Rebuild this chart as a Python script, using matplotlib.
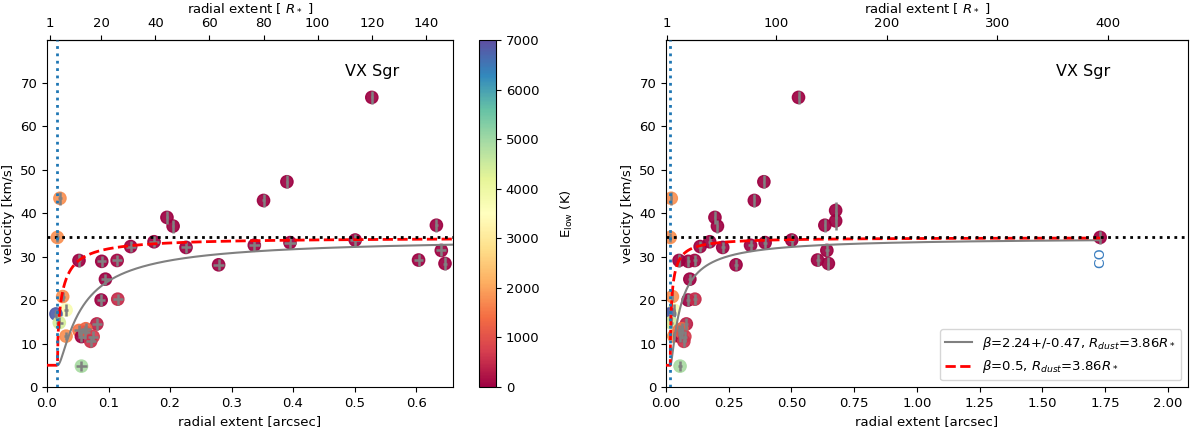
import numpy as np
import matplotlib.pyplot as plt

# measured points: radial extent (arcsec), velocity (km/s), E_low (K)
rad = [0.021, 0.0168, 0.052, 0.089, 0.114, 0.095, 0.088, 0.115, 0.0255, 0.031,
       0.0146, 0.020, 0.081, 0.031, 0.052, 0.063, 0.056, 0.062, 0.075, 0.071,
       0.056, 0.136, 0.174, 0.195, 0.205, 0.226, 0.279, 0.337, 0.352, 0.390,
       0.395, 0.501, 0.528, 0.604, 0.633, 0.641, 0.647, 0.676, 0.676, 1.730]
vel = [43.4, 34.4, 29.1, 28.9, 29.1, 24.8, 20.0, 20.2, 20.8, 17.7,
       16.8, 14.8, 14.5, 11.7, 13.0, 13.4, 11.6, 12.6, 11.6, 10.5,
       4.8, 32.3, 33.4, 39.0, 37.0, 32.1, 28.1, 32.6, 42.9, 47.2,
       33.2, 33.8, 66.6, 29.2, 37.2, 31.4, 28.4, 40.6, 38.2, 34.4]
elow = [1800, 1800, 0, 0, 100, 0, 0, 500, 1800, 3700,
        6800, 4400, 400, 1800, 1500, 1300, 0, 1100, 700, 600,
        4900, 0, 0, 0, 0, 0, 0, 0, 0, 0,
        0, 0, 0, 0, 0, 0, 0, 0, 0, 0]
rad_err = [0.003, 0.003, 0.003, 0.007, 0.008, 0.007, 0.007, 0.008, 0.003, 0.003,
           0.003, 0.006, 0.008, 0.003, 0.008, 0.008, 0.006, 0.008, 0.008, 0.008,
           0.009, 0.008, 0.008, 0.002, 0.002, 0.008, 0.009, 0.009, 0.002, 0.002,
           0.009, 0.009, 0.002, 0.008, 0.002, 0.008, 0.004, 0.002, 0.002, 0.004]
vel_err = [1.5, 1.0, 1.5, 1.3, 1.3, 1.3, 1.3, 1.3, 1.0, 1.3,
           1.0, 1.2, 1.3, 1.0, 1.3, 1.3, 1.3, 1.5, 1.3, 1.3,
           1.2, 1.3, 1.3, 1.5, 1.5, 1.3, 1.3, 1.3, 1.5, 1.5,
           1.3, 1.3, 1.5, 1.3, 1.5, 1.3, 1.5, 2.0, 2.0, 1.5]

Rstar = 0.0044       # arcsec
Rdust = 3.86*Rstar
v0 = 5.0
vinf = 34.4
beta_fit = 2.24
beta_fix = 0.5

top_ticks_l = [1, 20, 40, 60, 80, 100, 120, 140]
top_ticks_r = [1, 100, 200, 300, 400]

plt.rcParams['font.size'] = 9.5

r_in = np.linspace(0, Rdust, 50)
r_out = np.linspace(Rdust, 1.73, 2000)
v_fit = v0 + (vinf - v0)*(1 - Rdust/r_out)**beta_fit
v_fix = v0 + (vinf - v0)*(1 - Rdust/r_out)**beta_fix
r_red = np.concatenate([r_in, r_out])
v_red = np.concatenate([np.ones(len(r_in))*v0, v_fix])

fig = plt.figure(figsize=(12, 4.28), dpi=100)
ax1 = fig.add_axes([47/1200, 41/428, 406/1200, 347/428])
cax = fig.add_axes([479/1200, 41/428, 17/1200, 347/428])
ax2 = fig.add_axes([666/1200, 41/428, 522/1200, 347/428])

for ax, xmax, tticks in [(ax1, 0.66, top_ticks_l), (ax2, 2.08, top_ticks_r)]:
    sc = ax.scatter(rad, vel, c=elow, cmap='Spectral', vmin=0, vmax=7000, s=78,
                    alpha=0.92, zorder=2)
    ax.errorbar(rad, vel, xerr=rad_err, yerr=vel_err, fmt='none', ecolor='gray',
                elinewidth=1.8, zorder=3)
    ax.plot(r_out, v_fit, color='gray', lw=1.5, zorder=4,
            label=r'$\beta$=2.24+/-0.47, $R_{dust}$=3.86$R_*$')
    ax.plot(r_red, v_red, 'r--', lw=2, zorder=4,
            label=r'$\beta$=0.5, $R_{dust}$=3.86$R_*$')
    ax.axhline(vinf, color='k', ls=':', lw=2, zorder=5)
    ax.axvline(Rdust, color='tab:blue', ls=':', lw=2, zorder=5)
    ax.set_xlim(0, xmax)
    ax.set_ylim(0, 79.8)
    ax.set_xlabel('radial extent [arcsec]')
    ax.set_ylabel('velocity [km/s]')
    ax.text(0.8, 0.91, 'VX Sgr', transform=ax.transAxes, ha='center', va='center', fontsize=11.5)
    secax = ax.secondary_xaxis('top', functions=(lambda x: x/Rstar, lambda r: r*Rstar))
    secax.set_xticks(tticks)
    secax.set_xlabel(r'radial extent [ $R_*$ ]')

ax1.set_xticks(np.arange(0, 0.61, 0.1))
ax2.set_xticks(np.arange(0, 2.01, 0.25))
ax2.text(rad[-1], vel[-1] - 2.3, 'CO', rotation=90, ha='center', va='top',
         color='#3a7dbf', fontsize=10)
ax2.legend(loc='lower right', fontsize=9.5)

cb = fig.colorbar(sc, cax=cax)
cb.solids.set_alpha(1)
cb.set_ticks(range(0, 7001, 1000))
cb.set_label(r'E$_{\rm low}$ (K)', labelpad=14)

fig.savefig('out.png', dpi=100)
